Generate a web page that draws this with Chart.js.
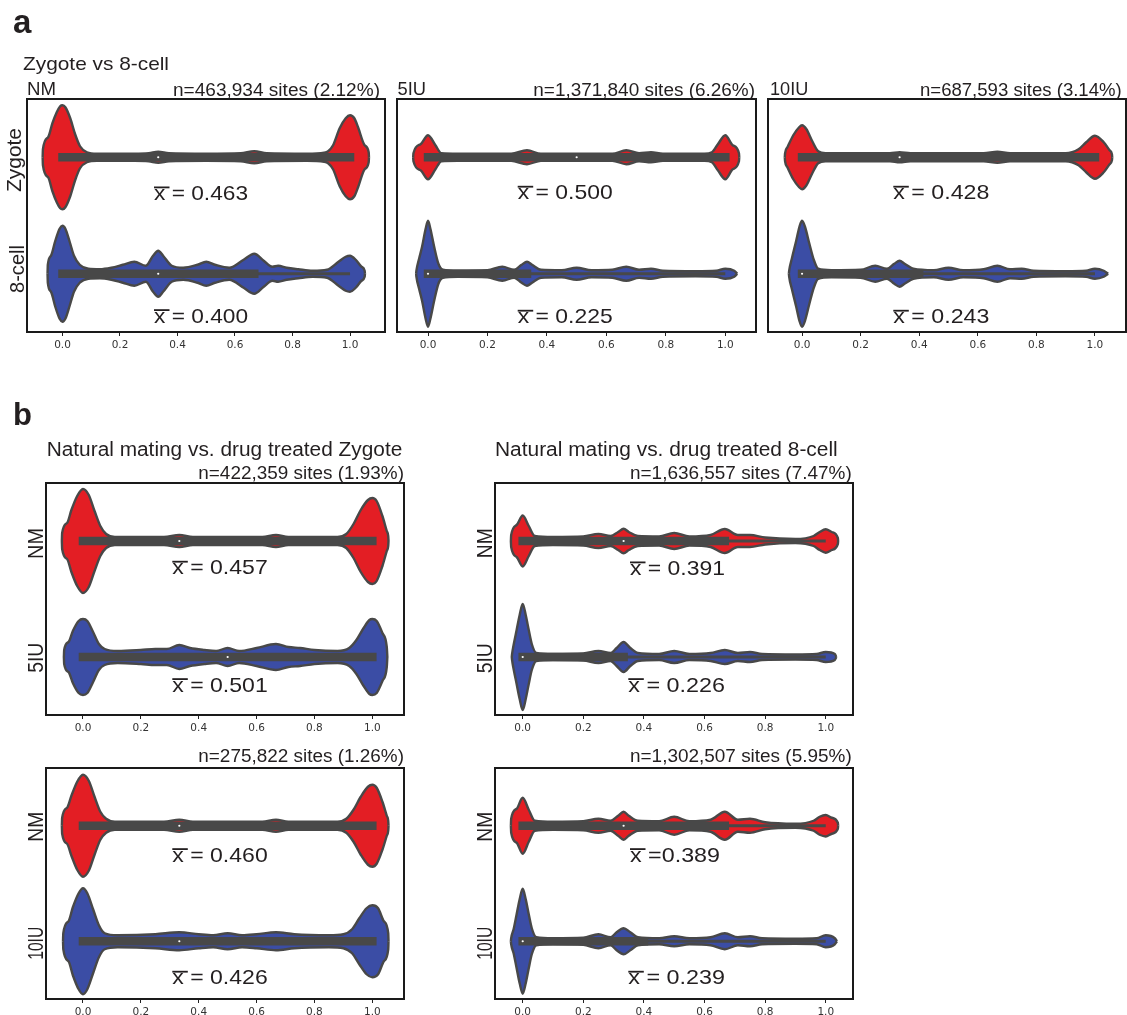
<!DOCTYPE html>
<html><head><meta charset="utf-8">
<script src="https://cdn.jsdelivr.net/npm/chart.js@4/dist/chart.umd.min.js"></script>
<style>
html,body{margin:0;padding:0;background:#fff;overflow:hidden;}
#root{position:relative;width:1127px;height:1015px;overflow:hidden;}
canvas{position:absolute;}
svg{position:absolute;left:0;top:0;pointer-events:none;}
</style></head>
<body><div id="root"></div>
<script>
// ---------- DATA ----------
const TICK_VALUES = [0, 0.2, 0.4, 0.6, 0.8, 1.0];

// violin outlines: [methylation level, density (half-width)]
// panel a, NM
const A_NM_ZYGOTE = [[-0.069,0],[-0.068,8],[-0.05,20],[-0.035,34],[-0.02,45],[-0.008,51],[0,52],[0.01,50],[0.027,39],[0.044,23],[0.061,11],[0.085,5],[0.12,3.5],[0.25,3.5],[0.30,4],[0.333,5.5],[0.37,4],[0.5,3.5],[0.62,4],[0.667,6],[0.71,4],[0.85,3.5],[0.91,4.5],[0.924,6],[0.941,12],[0.964,29],[0.985,39],[1.0,42],[1.015,39],[1.028,30],[1.051,12],[1.065,5],[1.066,0]];
const A_NM_8CELL = [[-0.052,0],[-0.051,9],[-0.04,18],[-0.025,33],[-0.01,45],[0,48],[0.01,45],[0.025,32],[0.04,18],[0.06,9],[0.09,5],[0.13,4.5],[0.17,6],[0.21,9],[0.25,12],[0.29,8],[0.315,18],[0.333,23],[0.35,18],[0.38,8],[0.42,6],[0.47,9],[0.5,12],[0.53,9],[0.58,6],[0.63,14],[0.667,20],[0.70,13],[0.73,7],[0.75,8],[0.78,6],[0.82,4.5],[0.87,3],[0.92,4],[0.96,12],[0.985,17],[1.0,18],[1.02,14],[1.04,7],[1.051,3],[1.052,0]];
// panel a, 5IU
const A_5IU_ZYGOTE = [[-0.05,0],[-0.049,4],[-0.025,13],[0,22],[0.025,12],[0.045,4],[0.1,3.5],[0.28,3.5],[0.333,7],[0.38,3.5],[0.5,3.5],[0.62,3.5],[0.667,7],[0.71,4],[0.75,5],[0.79,3.5],[0.93,3.5],[0.955,5],[0.975,13],[1.0,22],[1.025,12],[1.046,4],[1.047,0]];
const A_5IU_8CELL = [[-0.04,0],[-0.039,3],[-0.03,15],[-0.02,27],[-0.008,45],[0,53],[0.008,45],[0.02,28],[0.035,10],[0.05,4],[0.1,3],[0.2,3.5],[0.25,7],[0.29,4],[0.315,9],[0.333,12],[0.35,9],[0.38,4],[0.45,3.5],[0.5,6],[0.55,3.5],[0.62,4],[0.667,7],[0.71,4],[0.75,5],[0.79,3],[0.9,2.5],[0.97,3],[1.0,5],[1.03,3],[1.04,0]];
// panel a, 10IU
const A_10IU_ZYGOTE = [[-0.059,0],[-0.058,4],[-0.05,10],[-0.03,22],[-0.01,30],[0,32],[0.015,28],[0.035,16],[0.055,6],[0.08,4],[0.3,4],[0.333,5],[0.37,4],[0.62,4],[0.667,5.5],[0.71,4],[0.9,4],[0.944,8],[0.97,15],[1.0,21.5],[1.03,15],[1.05,7],[1.058,3],[1.059,0]];
const A_10IU_8CELL = [[-0.045,0],[-0.044,3],[-0.035,15],[-0.02,33],[-0.008,48],[0,53],[0.01,47],[0.025,30],[0.04,14],[0.055,5],[0.1,3.5],[0.2,4],[0.25,8],[0.29,5],[0.315,10],[0.333,13],[0.35,10],[0.38,5],[0.45,3.5],[0.5,6],[0.55,3.5],[0.62,4.5],[0.667,8],[0.71,4.5],[0.75,5],[0.79,3],[0.9,2.5],[0.97,3],[1.0,5],[1.03,3],[1.045,0]];
// panel b, zygote NM vs 5IU
const B_ZYG_NM = [[-0.073,0],[-0.072,8],[-0.055,18],[-0.04,31],[-0.02,45],[0,52],[0.02,46],[0.04,30],[0.06,15],[0.08,7],[0.11,4],[0.28,4],[0.333,6],[0.38,4],[0.62,4],[0.667,6],[0.71,4],[0.88,4],[0.91,7],[0.935,17],[0.96,31],[0.985,41],[1.0,43],[1.015,40],[1.035,25],[1.05,10],[1.055,5],[1.056,0]];
const B_ZYG_5IU = [[-0.066,0],[-0.065,7],[-0.05,15],[-0.035,26],[-0.015,36],[0,38],[0.015,36],[0.035,25],[0.055,13],[0.075,8],[0.12,6],[0.2,7],[0.25,8],[0.29,8],[0.333,12],[0.37,9],[0.42,7],[0.46,6],[0.5,9],[0.54,6],[0.6,9],[0.667,13],[0.71,10],[0.75,9],[0.8,7],[0.88,6],[0.92,9],[0.945,17],[0.97,29],[0.99,37],[1.0,38],[1.015,36],[1.035,24],[1.05,10],[1.052,0]];
// panel b, 8-cell NM vs 5IU
const B_8C_NM = [[-0.039,0],[-0.038,6],[-0.02,16],[0,25.5],[0.02,15],[0.04,5],[0.1,4],[0.2,4.5],[0.25,7],[0.29,5],[0.315,9],[0.333,12.3],[0.35,9],[0.38,5],[0.45,4.5],[0.5,8],[0.55,4.5],[0.62,6],[0.667,12],[0.71,6],[0.75,6],[0.8,3.5],[0.9,2],[0.96,5],[0.98,9],[1.0,11.7],[1.02,9],[1.04,3],[1.041,0]];
const B_8C_5IU = [[-0.036,0],[-0.035,3],[-0.03,12],[-0.02,27],[-0.01,42],[0,53],[0.01,42],[0.02,27],[0.03,13],[0.045,4],[0.1,3],[0.2,3.5],[0.25,6],[0.29,4],[0.31,9],[0.333,15],[0.355,9],[0.38,4],[0.45,3],[0.5,6],[0.55,3],[0.62,4],[0.667,7],[0.71,4],[0.75,5],[0.79,3],[0.9,2.5],[0.97,3],[1.0,5],[1.03,3],[1.035,0]];
// panel b, zygote NM vs 10IU
const B_ZYG10_NM = [[-0.073,0],[-0.072,8],[-0.055,18],[-0.04,30],[-0.02,44],[0,51],[0.02,45],[0.04,29],[0.06,14],[0.08,7],[0.11,4],[0.28,4],[0.333,6],[0.38,4],[0.62,4],[0.667,6],[0.71,4],[0.88,4],[0.91,7],[0.935,16],[0.96,29],[0.985,39],[1.0,41],[1.015,38],[1.035,24],[1.05,10],[1.055,5],[1.056,0]];
const B_ZYG10_10IU = [[-0.069,0],[-0.068,8],[-0.05,20],[-0.035,34],[-0.015,48],[0,53],[0.015,48],[0.035,32],[0.055,16],[0.075,8],[0.12,6],[0.25,7],[0.333,9],[0.4,7],[0.45,6],[0.5,8],[0.55,6],[0.6,7],[0.667,9],[0.73,7],[0.85,6],[0.9,7],[0.93,12],[0.955,23],[0.98,33],[1.0,36],[1.02,33],[1.04,20],[1.055,8],[1.056,0]];
// panel b, 8-cell NM vs 10IU
const B_8C10_NM = [[-0.039,0],[-0.038,7],[-0.02,17],[0,28],[0.02,16],[0.04,5],[0.1,4],[0.2,4.5],[0.25,7],[0.29,5],[0.315,10],[0.333,14],[0.35,10],[0.38,5],[0.45,4.5],[0.5,9],[0.55,4.5],[0.62,6],[0.667,14],[0.71,6],[0.75,7],[0.8,3.5],[0.9,2],[0.96,5],[0.98,9],[1.0,10.7],[1.02,8],[1.04,3],[1.041,0]];
const B_8C10_10IU = [[-0.039,0],[-0.038,3],[-0.03,12],[-0.02,27],[-0.01,42],[0,52.5],[0.01,42],[0.02,27],[0.03,13],[0.045,4],[0.1,3],[0.2,3.5],[0.25,7],[0.29,4],[0.31,9],[0.333,13],[0.355,9],[0.38,4],[0.45,3],[0.5,5],[0.55,3],[0.62,4],[0.667,8],[0.71,4],[0.75,5],[0.79,3],[0.9,2.5],[0.97,3],[1.0,6],[1.03,3],[1.037,0]];

// box stats: [q1, q3, median, whisker low, whisker high]
const BOX_A_NM_ZYGOTE = [0,1,0.333,0,1];
const BOX_A_NM_8CELL = [0,0.667,0.333,0,1];
const BOX_A_5IU_ZYGOTE = [0,1,0.5,0,1];
const BOX_A_5IU_8CELL = [0,0.333,0,0,1];
const BOX_A_10IU_ZYGOTE = [0,1,0.333,0,1];
const BOX_A_10IU_8CELL = [0,0.4,0,0,1];
const BOX_B_ZYG_NM = [0,1,0.333,0,1];
const BOX_B_ZYG_5IU = [0,1,0.5,0,1];
const BOX_B_8C_NM = [0,0.667,0.333,0,1];
const BOX_B_8C_5IU = [0,0.333,0,0,1];
const BOX_B_ZYG10_NM = [0,1,0.333,0,1];
const BOX_B_ZYG10_10IU = [0,1,0.333,0,1];
const BOX_B_8C10_NM = [0,0.667,0.333,0,1];
const BOX_B_8C10_10IU = [0,0.4,0,0,1];

// texts
const MEAN_LABELS = ['= 0.463','= 0.400','= 0.500','= 0.225','= 0.428','= 0.243','= 0.457','= 0.501','= 0.391','= 0.226','= 0.460','= 0.426','=0.389','= 0.239'];
const N_LABELS = ['n=463,934 sites (2.12%)','n=1,371,840 sites (6.26%)','n=687,593 sites (3.14%)','n=422,359 sites (1.93%)','n=1,636,557 sites (7.47%)','n=275,822 sites (1.26%)','n=1,302,507 sites (5.95%)'];
const GROUP_LABELS = ['NM','5IU','10IU'];
const ROW_LABELS_A = ['Zygote','8-cell'];
const TITLES = ['Zygote vs 8-cell','Natural mating vs. drug treated Zygote','Natural mating vs. drug treated 8-cell'];

// ---------- STYLE / LAYOUT ----------
const RED = '#e31e24', BLUE = '#3b4da5', GRAY = '#484848', INK = '#231f20';
const PAD = 4, AXIS_H = 26;
const FONT = "'Liberation Sans', Arial, Helvetica, sans-serif";

const PANELS = [
  {rect:[27,99,385,332], xr:[-0.1234,1.1217], rows:[[A_NM_ZYGOTE,BOX_A_NM_ZYGOTE,RED],[A_NM_8CELL,BOX_A_NM_8CELL,BLUE]]},
  {rect:[397,99,756,332], xr:[-0.1043,1.1033], rows:[[A_5IU_ZYGOTE,BOX_A_5IU_ZYGOTE,RED],[A_5IU_8CELL,BOX_A_5IU_8CELL,BLUE]]},
  {rect:[768,99,1126,332], xr:[-0.1163,1.106], rows:[[A_10IU_ZYGOTE,BOX_A_10IU_ZYGOTE,RED],[A_10IU_8CELL,BOX_A_10IU_8CELL,BLUE]]},
  {rect:[46,483,404,715], xr:[-0.1278,1.1095], rows:[[B_ZYG_NM,BOX_B_ZYG_NM,RED],[B_ZYG_5IU,BOX_B_ZYG_5IU,BLUE]]},
  {rect:[495,483,853,715], xr:[-0.0914,1.090], rows:[[B_8C_NM,BOX_B_8C_NM,RED],[B_8C_5IU,BOX_B_8C_5IU,BLUE]]},
  {rect:[46,768,404,999], xr:[-0.1278,1.1095], rows:[[B_ZYG10_NM,BOX_B_ZYG10_NM,RED],[B_ZYG10_10IU,BOX_B_ZYG10_10IU,BLUE]]},
  {rect:[495,768,853,999], xr:[-0.0914,1.090], rows:[[B_8C10_NM,BOX_B_8C10_NM,RED],[B_8C10_10IU,BOX_B_8C10_10IU,BLUE]]}
];

const root = document.getElementById('root');

const framePlugin = {
  id: 'frame',
  afterDraw(chart) {
    const {ctx, chartArea: a} = chart;
    ctx.save();
    ctx.strokeStyle = '#1a1a1a';
    ctx.lineWidth = 2;
    ctx.strokeRect(a.left, a.top, a.right - a.left, a.bottom - a.top);
    ctx.restore();
  }
};

function makePanel(p) {
  const [L, T, R, B] = p.rect;
  const w = R - L + 2 * PAD, h = B - T + PAD + AXIS_H;
  const cv = document.createElement('canvas');
  cv.width = w; cv.height = h;
  cv.style.left = (L - PAD) + 'px'; cv.style.top = (T - PAD) + 'px';
  cv.style.width = w + 'px'; cv.style.height = h + 'px';
  root.appendChild(cv);
  const S = 2 / (B - T);
  const datasets = [];
  p.rows.forEach(([dens, box, color], i) => {
    const c = i + 0.5;
    const [q1, q3, med, lo, hi] = box;
    datasets.push({data:[{x:med,y:c}], showLine:false, pointRadius:1.1, pointBackgroundColor:'#fff', pointBorderWidth:0, order:0});
    datasets.push({data:[{x:q1,y:c},{x:q3,y:c}], borderColor:GRAY, borderWidth:8.5, borderCapStyle:'square', pointRadius:0, fill:false, order:1});
    datasets.push({data:[{x:lo,y:c},{x:hi,y:c}], borderColor:GRAY, borderWidth:2.8, pointRadius:0, fill:false, order:2});
  });
  p.rows.forEach(([dens, box, color], i) => {
    const c = i + 0.5;
    datasets.push({data:dens.map(([x,d]) => ({x, y:c - d*S})), borderColor:GRAY, borderWidth:2.4, backgroundColor:color, fill:'+1', pointRadius:0, cubicInterpolationMode:'monotone', order:10});
    datasets.push({data:dens.map(([x,d]) => ({x, y:c + d*S})), borderColor:GRAY, borderWidth:2.4, backgroundColor:color, fill:false, pointRadius:0, cubicInterpolationMode:'monotone', order:10});
  });
  new Chart(cv, {
    type: 'line',
    data: {datasets},
    options: {
      responsive:false, animation:false, events:[],
      layout:{padding:{left:PAD, right:PAD, top:PAD, bottom:0}},
      plugins:{legend:{display:false}, tooltip:{enabled:false}, filler:{drawTime:'beforeDatasetsDraw'}},
      scales:{
        x:{type:'linear', min:p.xr[0], max:p.xr[1],
           afterBuildTicks:s => { s.ticks = TICK_VALUES.map(v => ({value:v})); },
           afterFit:s => { s.height = AXIS_H; },
           border:{display:false},
           grid:{drawOnChartArea:false, drawTicks:true, tickLength:4, color:'#222', lineWidth:1},
           ticks:{font:{family:'DejaVu Sans', size:10.5}, color:'#333', padding:3, maxRotation:0, autoSkip:false, callback:v => Number(v).toFixed(1)}},
        y:{type:'linear', min:0, max:2, reverse:true, display:false}
      }
    },
    plugins:[framePlugin]
  });
}
PANELS.forEach(makePanel);

// ---------- TEXT (SVG overlay) ----------
// [text, x0, x1, baseline, size, weight]
const HTEXT = [
  ['a', 13, null, 33, 33, 'bold'],
  ['b', 13, null, 425, 31, 'bold'],
  [TITLES[0], 23, 169, 70, 19, 'normal'],
  [GROUP_LABELS[0], 27, 56, 94.5, 18, 'normal'],
  [N_LABELS[0], 173, 380, 95.5, 17.5, 'normal'],
  [GROUP_LABELS[1], 397.5, 426, 94.5, 18, 'normal'],
  [N_LABELS[1], 533.3, 755, 95.5, 17.5, 'normal'],
  [GROUP_LABELS[2], 770, 808.3, 94.5, 18, 'normal'],
  [N_LABELS[2], 920, 1121.7, 95.5, 17.5, 'normal'],
  [TITLES[1], 46.7, 402.3, 456, 19.5, 'normal'],
  [N_LABELS[3], 198.3, 404, 479, 17.5, 'normal'],
  [TITLES[2], 495, 837.7, 456, 19.5, 'normal'],
  [N_LABELS[4], 630, 851.7, 479, 17.5, 'normal'],
  [N_LABELS[5], 198.3, 404, 762.3, 17.5, 'normal'],
  [N_LABELS[6], 630, 851.7, 762.3, 17.5, 'normal']
];
// mean labels: [label index, x0, x1, baseline]
const MEANS_POS = [
  [0,154,248,200],[1,154,248,322.7],
  [2,517.7,612.7,199.3],[3,517.7,612.7,323.3],
  [4,893.3,989.3,199.3],[5,893.3,989.3,323.3],
  [6,172.3,267.7,574.3],[7,172.3,267.7,691.7],
  [8,630,725,575],[9,628.3,725,691.7],
  [10,172.3,267.7,861.7],[11,172.3,267.7,984.3],
  [12,630,720,861.7],[13,628.3,725,984.3]
];
// rotated labels: [text, baseline x, center y, length, size]
const VTEXT = [
  [ROW_LABELS_A[0], 21, 160, 64, 21],
  [ROW_LABELS_A[1], 24, 269, 48, 21],
  [GROUP_LABELS[0], 43.3, 543.5, 31, 22], [GROUP_LABELS[1], 43.3, 657.7, 30, 22],
  [GROUP_LABELS[0], 491.7, 543.3, 30, 22], [GROUP_LABELS[1], 491.7, 658.3, 30, 22],
  [GROUP_LABELS[0], 43.3, 826.7, 30, 22], [GROUP_LABELS[2], 43.3, 943.3, 33, 22],
  [GROUP_LABELS[0], 491.7, 826.7, 30, 22], [GROUP_LABELS[2], 491.7, 943.3, 33, 22]
];

const NS = 'http://www.w3.org/2000/svg';
const svg = document.createElementNS(NS, 'svg');
svg.setAttribute('width', 1127); svg.setAttribute('height', 1015);
root.appendChild(svg);
function addText(str, attrs) {
  const t = document.createElementNS(NS, 'text');
  for (const k in attrs) t.setAttribute(k, attrs[k]);
  t.textContent = str;
  svg.appendChild(t);
  return t;
}
HTEXT.forEach(([s, x0, x1, y, size, weight]) => {
  const a = {x:x0, y:y, 'font-family':FONT, 'font-size':size, 'font-weight':weight, fill:INK};
  if (x1 !== null) { a.textLength = x1 - x0; a.lengthAdjust = 'spacingAndGlyphs'; }
  addText(s, a);
});
MEANS_POS.forEach(([i, x0, x1, y]) => {
  addText('x ' + MEAN_LABELS[i], {x:x0, y:y, 'font-family':FONT, 'font-size':21, fill:INK, textLength:x1 - x0, lengthAdjust:'spacingAndGlyphs'});
  const r = document.createElementNS(NS, 'rect');
  r.setAttribute('x', x0); r.setAttribute('y', y - 13.5);
  r.setAttribute('width', 15.5); r.setAttribute('height', 1.8);
  r.setAttribute('fill', INK);
  svg.appendChild(r);
});
VTEXT.forEach(([s, bx, cy, len, size]) => {
  addText(s, {transform:`translate(${bx},${cy}) rotate(-90)`, x:0, y:0, 'text-anchor':'middle', 'font-family':FONT, 'font-size':size, fill:INK, textLength:len, lengthAdjust:'spacingAndGlyphs'});
});
</script>
</body></html>
